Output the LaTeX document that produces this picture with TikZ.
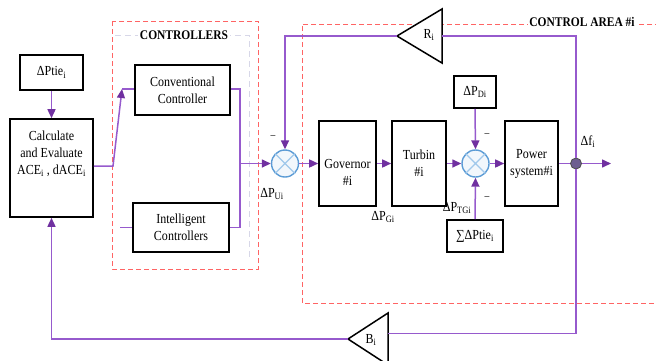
\documentclass[tikz,border=0pt]{standalone}
\usepackage{fontspec}
\setmainfont[FakeStretch=0.87]{Liberation Serif}
\usetikzlibrary{arrows.meta}
\definecolor{pline}{RGB}{150,90,205}
\definecolor{parrow}{RGB}{112,48,160}
\definecolor{rdash}{RGB}{255,100,100}
\definecolor{sblue}{RGB}{91,155,213}
\definecolor{scross}{RGB}{160,200,235}
\definecolor{dotc}{RGB}{110,95,145}
\definecolor{faint}{RGB}{215,215,232}
\begin{document}
\begin{tikzpicture}[x=1pt,y=-1pt,
 box/.style={draw=black, fill=white, line width=1.6pt, inner sep=0pt, align=center, font=\fontsize{13.8}{17}\selectfont},
 txt/.style={inner sep=0pt, align=center, font=\fontsize{13.8}{17}\selectfont},
 wire/.style={draw=pline, line width=1.5pt},
 arr/.style={wire, -{Triangle[length=9pt,width=8pt,color=parrow]}},
 sumc/.style={circle, draw=sblue, line width=1.4pt, fill=sblue!8, minimum size=27pt, inner sep=0pt},
 reddash/.style={draw=rdash, line width=1pt, dash pattern=on 5pt off 3pt},
 hdr/.style={font=\bfseries\fontsize{13.2}{15}\selectfont, fill=white, inner sep=1.5pt},
 tri/.style={draw=black, line width=1.5pt, line join=miter, fill=white}]
\useasboundingbox (0,0) rectangle (656,360);

% dashed frames
\draw[reddash] (112,21) rectangle (258,269);
\draw[reddash] (660,24) -- (302,24) -- (302,303) -- (660,303);
\draw[faint, dash pattern=on 6pt off 4pt, line width=0.8pt] (115,35) -- (249,35) -- (249,260);
\node[hdr] (hctrl) at (184,35) {CONTROLLERS};
\node[hdr] (harea) at (582,22) {CONTROL AREA \#i};

% blocks
\node[box, minimum width=63pt, minimum height=35pt] (ptie) at (51.5,72.5) {ΔPtie\textsubscript{i}};
\node[box, minimum width=83pt, minimum height=98pt] (calc) at (51.5,168) {};
\node[txt] (calctxt) at (51.5,154) {Calculate\\and Evaluate\\ACE\textsubscript{i} , dACE\textsubscript{i}};
\node[box, minimum width=95pt, minimum height=50pt] (conv) at (182.5,90) {Conventional\\Controller};
\node[box, minimum width=96pt, minimum height=49pt] (intel) at (181,227.5) {Intelligent\\Controllers};
\node[box, minimum width=57pt, minimum height=85pt] (gov) at (347.5,163.5) {};
\node[txt] (govtxt) at (347.5,172) {Governor\\\#i};
\node[box, minimum width=54pt, minimum height=85pt] (turb) at (419,163.5) {Turbin\\\#i};
\node[box, minimum width=53pt, minimum height=85pt] (psys) at (531.5,163.5) {Power\\system\#i};
\node[box, minimum width=42pt, minimum height=32pt] (pd) at (475,92) {ΔP\textsubscript{Di}};
\node[box, minimum width=56pt, minimum height=32pt] (pts) at (475,236) {∑ΔPtie\textsubscript{i}};

% summing junctions
\node[sumc] (s1) at (285,163.5) {};
\node[sumc] (s2) at (475.5,163.5) {};
\foreach \s in {s1,s2}{
  \draw[scross, line width=1.2pt] (\s.north east) -- (\s.south west) (\s.north west) -- (\s.south east);
}

% gain triangles
\draw[tri] (442,9) -- (397,36) -- (442,63) -- cycle;
\coordinate (Rtip) at (397,36);
\coordinate (Rbase) at (442,36);
\node[txt] (Rlab) at (429,35) {R\textsubscript{i}};
\draw[tri] (388,313) -- (348,339) -- (388,365) -- cycle;
\coordinate (Btip) at (348,339);
\coordinate (Bbase) at (388,333.5);
\node[txt] (Blab) at (371,340) {B\textsubscript{i}};

% connectors
\draw[arr] (ptie) -- (calc);
\coordinate (kA) at (113,166);
\coordinate (kB) at (122,89);
\draw[arr] (calc.east |- kA) -- (kA) -- (kB);
\draw[wire] (kB) -- (conv.west |- kB);
\coordinate (iA) at (120,227.5);
\draw[wire] (iA) -- (intel.west |- iA);
\coordinate (vx) at (240,163.5);
\draw[wire] (conv.east |- kB) -- (kB -| vx) -- (vx);
\draw[wire] (intel.east) -- (intel.east -| vx) -- (vx);
\draw[arr] (vx) -- (s1.west);
\draw[arr] (s1.east) -- (gov.west);
\draw[arr] (gov.east) -- (turb.west);
\draw[arr] (turb.east) -- (s2.west);
\draw[arr] (s2.east) -- (psys.west);
\draw[arr] (pd.south) -- (s2.north);
\draw[arr] (pts.north) -- (s2.south);

\coordinate (Rtop) at (576,36);
\coordinate (Bbot) at (576,333.5);
\coordinate (out) at (611,163.5);
\node[circle, fill=dotc, draw=black!70, line width=0.8pt, minimum size=11pt, inner sep=0pt] (dot) at (576,163.5) {};
\draw[wire] (psys.east) -- (dot);
\draw[arr] (dot) -- (out);
\draw[wire] (dot) -- (Rtop) -- (Rbase);
\draw[arr] (Rtip) -- (Rtip -| s1) -- (s1.north);
\draw[wire] (dot) -- (Bbot) -- (Bbase);
\draw[arr] (Btip) -- (Btip -| calc) -- (calc.south);

% labels
\node[txt, font=\fontsize{11}{12}\selectfont] (m1) at (273,137) {–};
\node[txt, font=\fontsize{11}{12}\selectfont] (m2) at (487,135) {–};
\node[txt, font=\fontsize{11}{12}\selectfont] (m3) at (487,198) {–};
\node[txt] (lpu) at (272,194) {ΔP\textsubscript{Ui}};
\node[txt] (lpg) at (383,217) {ΔP\textsubscript{Gi}};
\node[txt] (lptg) at (457,208) {ΔP\textsubscript{TGi}};
\node[txt] (ldf) at (588,142) {Δf\textsubscript{i}};
\end{tikzpicture}
\end{document}
